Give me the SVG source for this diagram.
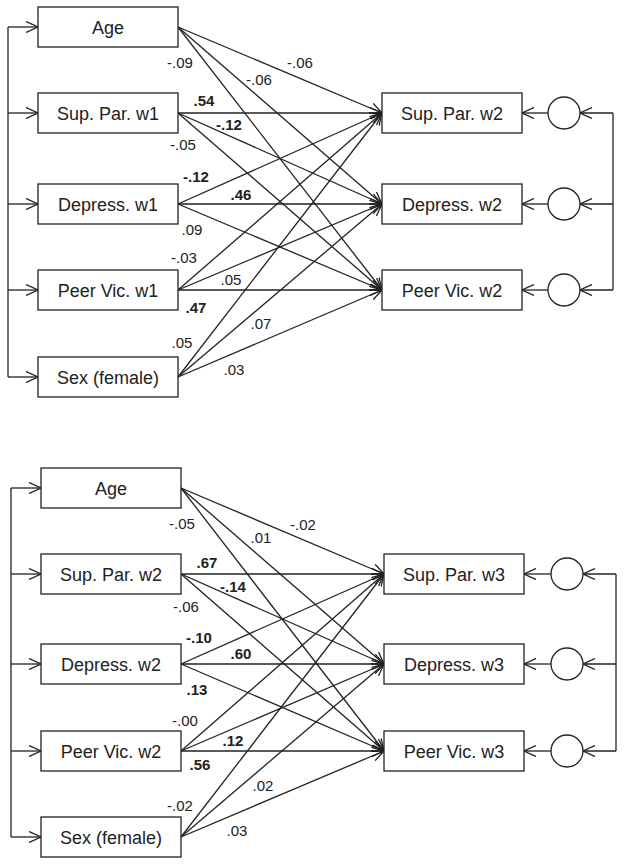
<svg xmlns="http://www.w3.org/2000/svg" width="624" height="865" viewBox="0 0 624 865">
<style>
.box{fill:#fff;stroke:#222;stroke-width:1.3}
.circ{fill:#fff;stroke:#222;stroke-width:1.3}
.lbl{font-family:"Liberation Sans",Arial,sans-serif;font-size:18px;fill:#222;text-anchor:middle}
.c{font-family:"Liberation Sans",Arial,sans-serif;font-size:15px;fill:#222;text-anchor:middle}
.b{font-weight:bold}
.ln{stroke:#222;stroke-width:1.3;fill:none}
.ar{stroke:#222;stroke-width:1.3;fill:none;marker-end:url(#arr)}
</style>
<defs>
<marker id="arr" viewBox="0 0 12 12" refX="12" refY="6" markerWidth="12" markerHeight="12" markerUnits="userSpaceOnUse" orient="auto">
<path d="M0,0.5 L12,6 L0,11.5" fill="none" stroke="#222" stroke-width="1.3"/>
</marker>
</defs>

<!-- ===== Top panel ===== -->
<g id="connectors-top">
<path class="ln" d="M8,27 V377"/>
<path class="ar" d="M8,27 H38"/>
<path class="ar" d="M8,113 H38"/>
<path class="ar" d="M8,204 H38"/>
<path class="ar" d="M8,290 H38"/>
<path class="ar" d="M8,377 H38"/>
<path class="ln" d="M613,113 V290"/>
<path class="ar" d="M613,113 H580"/>
<path class="ar" d="M613,204 H580"/>
<path class="ar" d="M613,290 H580"/>
<path class="ar" d="M548,113 H522"/>
<path class="ar" d="M548,204 H522"/>
<path class="ar" d="M548,290 H522"/>
<path class="ar" d="M178,27 L382,113"/>
<path class="ar" d="M178,27 L382,204"/>
<path class="ar" d="M178,27 L382,290"/>
<path class="ar" d="M178,113 L382,113"/>
<path class="ar" d="M178,113 L382,204"/>
<path class="ar" d="M178,113 L382,290"/>
<path class="ar" d="M178,204 L382,113"/>
<path class="ar" d="M178,204 L382,204"/>
<path class="ar" d="M178,204 L382,290"/>
<path class="ar" d="M178,290 L382,113"/>
<path class="ar" d="M178,290 L382,204"/>
<path class="ar" d="M178,290 L382,290"/>
<path class="ar" d="M178,377 L382,113"/>
<path class="ar" d="M178,377 L382,204"/>
<path class="ar" d="M178,377 L382,290"/>
</g>
<g id="coefs-top">
<text class="c" x="180" y="68">-.09</text>
<text class="c" x="259" y="85">-.06</text>
<text class="c" x="300" y="68">-.06</text>
<text class="c b" x="204" y="106">.54</text>
<text class="c b" x="229" y="130">-.12</text>
<text class="c" x="183" y="150">-.05</text>
<text class="c b" x="196" y="182">-.12</text>
<text class="c b" x="241" y="200">.46</text>
<text class="c" x="192" y="235">.09</text>
<text class="c" x="184" y="263">-.03</text>
<text class="c" x="231" y="285">.05</text>
<text class="c b" x="196" y="313">.47</text>
<text class="c" x="261" y="329">.07</text>
<text class="c" x="182" y="348">.05</text>
<text class="c" x="234" y="375">.03</text>
</g>
<g id="age1"><rect class="box" x="38" y="7" width="140" height="40"/><text class="lbl" x="108" y="33.5">Age</text></g>
<g id="suppar1"><rect class="box" x="38" y="93" width="140" height="40"/><text class="lbl" x="108" y="119.5">Sup. Par. w1</text></g>
<g id="depress1"><rect class="box" x="38" y="184" width="140" height="40"/><text class="lbl" x="108" y="210.5">Depress. w1</text></g>
<g id="peervic1"><rect class="box" x="38" y="270" width="140" height="40"/><text class="lbl" x="108" y="296.5">Peer Vic. w1</text></g>
<g id="sex1"><rect class="box" x="38" y="357" width="140" height="40"/><text class="lbl" x="108" y="383.5">Sex (female)</text></g>
<g id="suppar2"><rect class="box" x="382" y="93" width="140" height="40"/><text class="lbl" x="452" y="119.5">Sup. Par. w2</text></g>
<g id="depress2"><rect class="box" x="382" y="184" width="140" height="40"/><text class="lbl" x="452" y="210.5">Depress. w2</text></g>
<g id="peervic2"><rect class="box" x="382" y="270" width="140" height="40"/><text class="lbl" x="452" y="296.5">Peer Vic. w2</text></g>
<g id="e-suppar2"><circle class="circ" cx="564" cy="113" r="16"/></g>
<g id="e-depress2"><circle class="circ" cx="564" cy="204" r="16"/></g>
<g id="e-peervic2"><circle class="circ" cx="564" cy="290" r="16"/></g>

<!-- ===== Bottom panel ===== -->
<g id="connectors-bottom">
<path class="ln" d="M11,488 V837"/>
<path class="ar" d="M11,488 H41"/>
<path class="ar" d="M11,574 H41"/>
<path class="ar" d="M11,664 H41"/>
<path class="ar" d="M11,751 H41"/>
<path class="ar" d="M11,837 H41"/>
<path class="ln" d="M616,574 V751"/>
<path class="ar" d="M616,574 H583"/>
<path class="ar" d="M616,664 H583"/>
<path class="ar" d="M616,751 H583"/>
<path class="ar" d="M551,574 H524"/>
<path class="ar" d="M551,664 H524"/>
<path class="ar" d="M551,751 H524"/>
<path class="ar" d="M181,488 L384,574"/>
<path class="ar" d="M181,488 L384,664"/>
<path class="ar" d="M181,488 L384,751"/>
<path class="ar" d="M181,574 L384,574"/>
<path class="ar" d="M181,574 L384,664"/>
<path class="ar" d="M181,574 L384,751"/>
<path class="ar" d="M181,664 L384,574"/>
<path class="ar" d="M181,664 L384,664"/>
<path class="ar" d="M181,664 L384,751"/>
<path class="ar" d="M181,751 L384,574"/>
<path class="ar" d="M181,751 L384,664"/>
<path class="ar" d="M181,751 L384,751"/>
<path class="ar" d="M181,837 L384,574"/>
<path class="ar" d="M181,837 L384,664"/>
<path class="ar" d="M181,837 L384,751"/>
</g>
<g id="coefs-bottom">
<text class="c" x="182" y="529">-.05</text>
<text class="c" x="261" y="543">.01</text>
<text class="c" x="303" y="530">-.02</text>
<text class="c b" x="207" y="568">.67</text>
<text class="c b" x="233" y="592">-.14</text>
<text class="c" x="186" y="612">-.06</text>
<text class="c b" x="199" y="643">-.10</text>
<text class="c b" x="241" y="659">.60</text>
<text class="c b" x="197" y="695">.13</text>
<text class="c" x="185" y="726">-.00</text>
<text class="c b" x="233" y="746">.12</text>
<text class="c b" x="200" y="770">.56</text>
<text class="c" x="263" y="791">.02</text>
<text class="c" x="180" y="811">-.02</text>
<text class="c" x="237" y="836">.03</text>
</g>
<g id="age2"><rect class="box" x="41" y="468" width="140" height="40"/><text class="lbl" x="111" y="494.5">Age</text></g>
<g id="suppar2b"><rect class="box" x="41" y="554" width="140" height="40"/><text class="lbl" x="111" y="580.5">Sup. Par. w2</text></g>
<g id="depress2b"><rect class="box" x="41" y="644" width="140" height="40"/><text class="lbl" x="111" y="670.5">Depress. w2</text></g>
<g id="peervic2b"><rect class="box" x="41" y="731" width="140" height="40"/><text class="lbl" x="111" y="757.5">Peer Vic. w2</text></g>
<g id="sex2"><rect class="box" x="41" y="817" width="140" height="40"/><text class="lbl" x="111" y="843.5">Sex (female)</text></g>
<g id="suppar3"><rect class="box" x="384" y="554" width="140" height="40"/><text class="lbl" x="454" y="580.5">Sup. Par. w3</text></g>
<g id="depress3"><rect class="box" x="384" y="644" width="140" height="40"/><text class="lbl" x="454" y="670.5">Depress. w3</text></g>
<g id="peervic3"><rect class="box" x="384" y="731" width="140" height="40"/><text class="lbl" x="454" y="757.5">Peer Vic. w3</text></g>
<g id="e-suppar3"><circle class="circ" cx="567" cy="574" r="16"/></g>
<g id="e-depress3"><circle class="circ" cx="567" cy="664" r="16"/></g>
<g id="e-peervic3"><circle class="circ" cx="567" cy="751" r="16"/></g>
</svg>
